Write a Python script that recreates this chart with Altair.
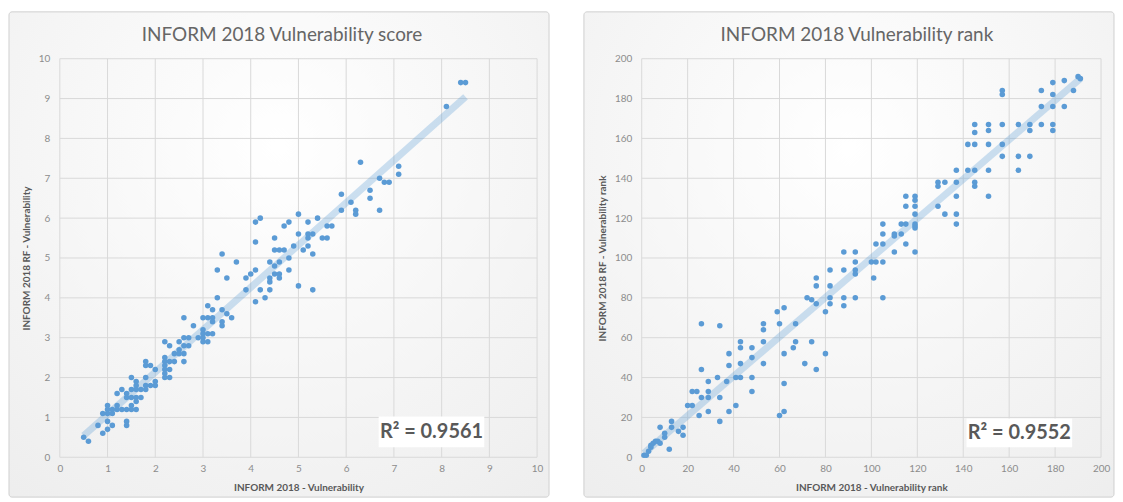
import altair as alt
import pandas as pd

# ---------------- data ----------------
score_x = [0.5, 0.6, 0.8, 0.9, 0.9, 1.0, 1.0, 1.0, 1.0, 1.0,
           1.1, 1.1, 1.1, 1.2, 1.2, 1.2, 1.3, 1.3, 1.4, 1.4,
           1.4, 1.4, 1.4, 1.5, 1.5, 1.5, 1.5, 1.5, 1.6, 1.6,
           1.6, 1.6, 1.6, 1.6, 1.7, 1.7, 1.8, 1.8, 1.8, 1.8,
           1.8, 1.9, 1.9, 2.0, 2.0, 2.0, 2.2, 2.2, 2.2, 2.2,
           2.2, 2.2, 2.2, 2.3, 2.3, 2.3, 2.3, 2.4, 2.4, 2.5,
           2.5, 2.5, 2.6, 2.6, 2.6, 2.6, 2.6, 2.7, 2.7, 2.8,
           2.9, 3.0, 3.0, 3.0, 3.0, 3.0, 3.1, 3.1, 3.1, 3.1,
           3.2, 3.2, 3.2, 3.2, 3.3, 3.3, 3.4, 3.4, 3.4, 3.4,
           3.5, 3.5, 3.6, 3.7, 3.9, 3.9, 4.0, 4.1, 4.1, 4.2,
           4.3, 4.4, 4.4, 4.4, 4.4, 4.5, 4.5, 4.6, 4.6, 4.6,
           4.8, 4.8, 5.0, 5.3, 5.3, 5.1, 4.5, 4.6, 4.7,
           8.4, 8.5, 8.1, 6.3, 7.1, 7.1, 6.7, 6.8, 6.9, 6.5,
           6.5, 6.7, 5.9, 5.9, 6.1, 6.2, 6.2, 4.1, 4.2, 4.1,
           4.5, 4.7, 4.8, 5.0, 5.0, 5.2, 5.2, 5.2, 5.2, 5.3,
           5.4, 5.5, 5.6, 5.6, 5.7, 4.9]
score_y = [0.5, 0.4, 0.8, 0.6, 1.1, 0.9, 0.7, 1.3, 1.2, 1.1,
           0.8, 1.1, 1.2, 1.3, 1.6, 1.2, 1.7, 1.2, 1.6, 1.5,
           0.9, 0.8, 1.2, 2.0, 1.7, 1.3, 1.2, 1.5, 1.9, 1.8,
           1.5, 1.4, 1.2, 1.7, 1.5, 1.7, 2.4, 2.3, 2.0, 1.8,
           1.7, 2.3, 1.8, 2.2, 1.9, 1.8, 2.9, 2.5, 2.4, 2.3,
           2.2, 2.1, 2.0, 2.8, 2.4, 2.2, 2.0, 2.6, 2.4, 2.9,
           2.7, 2.6, 3.5, 3.0, 2.8, 2.6, 2.4, 3.0, 2.8, 3.3,
           3.0, 3.5, 3.2, 3.1, 2.9, 3.0, 3.8, 3.5, 3.1, 2.9,
           3.7, 3.5, 3.4, 3.1, 4.7, 4.0, 5.1, 3.7, 3.4, 3.3,
           4.5, 3.6, 3.5, 4.9, 4.5, 4.2, 4.6, 4.7, 3.9, 4.2,
           4.0, 4.9, 4.5, 4.4, 4.2, 4.8, 4.6, 4.9, 4.6, 4.5,
           5.0, 4.7, 4.3, 5.1, 4.2, 5.2, 5.2, 5.2, 5.2,
           9.4, 9.4, 8.8, 7.4, 7.3, 7.1, 7.0, 6.9, 6.9, 6.7,
           6.5, 6.2, 6.6, 6.2, 6.4, 6.2, 6.1, 5.9, 6.0, 5.4,
           5.5, 5.8, 5.9, 6.1, 5.6, 5.9, 5.6, 5.5, 5.3, 5.6,
           6.0, 5.5, 5.5, 5.8, 5.8, 5.3]

rank_x = [1, 2, 3, 4, 4, 5, 6, 7, 8, 8, 10, 10, 12, 13, 13, 16, 18, 18,
          20, 22, 22, 24, 25, 26, 26, 26, 29, 29, 29, 29, 33, 34, 34, 34,
          37, 38, 38, 38, 41, 43, 41, 43, 43, 43, 48, 48, 48, 48,
          53, 53, 53, 53, 59, 60, 60, 62, 62, 62, 62, 66, 67, 67,
          71, 72, 74, 74, 76, 76, 76, 76, 80, 80, 82, 82, 82, 82,
          88, 88, 88, 88, 93, 93, 93, 93, 93, 100, 102, 105, 101, 105,
          110, 119, 102, 105, 105, 105, 110, 110, 113, 115, 113, 115,
          115, 115, 119, 119, 119, 119, 119, 119, 119,
          129, 129, 132, 137, 129, 132, 137, 137, 137,
          137, 142, 145, 151, 145, 145, 151,
          142, 145, 151, 157, 157, 164, 169, 164,
          145, 145, 151, 151, 157, 164, 169, 169, 174, 179, 179,
          174, 179, 184, 157, 157, 174, 188, 179, 179, 184, 190, 191]
rank_y = [1, 1, 3, 5, 6, 7, 8, 8, 7, 15, 10, 12, 4, 18, 15, 13, 15, 11,
          26, 26, 33, 33, 21, 67, 44, 30, 38, 33, 30, 23, 40, 66, 30, 18,
          38, 52, 46, 23, 40, 40, 26, 58, 55, 47, 55, 50, 40, 33,
          67, 64, 58, 47, 73, 67, 21, 75, 52, 37, 23, 55, 67, 58,
          47, 80, 79, 58, 90, 86, 77, 44, 73, 52, 94, 86, 80, 77,
          103, 94, 80, 76, 103, 98, 94, 92, 80, 98, 98, 98, 90, 80,
          103, 103, 107, 117, 112, 107, 111, 112, 117, 117, 112, 107,
          131, 126, 131, 129, 126, 122, 117, 116, 115,
          138, 136, 138, 138, 126, 122, 131, 122, 117,
          144, 144, 144, 144, 138, 136, 131,
          157, 157, 157, 157, 151, 151, 151, 144,
          167, 163, 167, 164, 167, 167, 167, 164, 167, 167, 164,
          176, 176, 176, 184, 182, 184, 184, 182, 188, 189, 191, 190]

score_ticks = list(range(0, 11))
rank_ticks = list(range(0, 201, 20))

score_title = "INFORM 2018 Vulnerability score"
rank_title = "INFORM 2018 Vulnerability rank"
score_xtitle = "INFORM 2018 - Vulnerability"
score_ytitle = "INFORM 2018 RF - Vulnerability"
rank_xtitle = "INFORM 2018 - Vulnerability rank"
rank_ytitle = "INFORM 2018 RF - Vulnerability rank"
score_r2 = "R² = 0.9561"
rank_r2 = "R² = 0.9552"

# ---------------- styling ----------------
FONT = "Lato"
BLUE = "#5b9bd5"
GRID = "#d9d9d9"

grad = alt.RadialGradient(
    gradient="radial",
    stops=[alt.GradientStop(color="#ffffff", offset=0),
           alt.GradientStop(color="#ededed", offset=1)],
    x1=0.5, y1=0.3, r1=0, x2=0.5, y2=0.3, r2=0.85,
)


def panel(xs, ys, ticks, w, h, title, xtitle, ytitle, r2, bg, box, tpos, title_pos):
    df = pd.DataFrame({"x": xs, "y": ys})
    tk = pd.DataFrame({"x": ticks, "y": ticks})
    dom = [ticks[0], ticks[-1]]

    def ax(t, lp, tp):
        return alt.Axis(values=ticks, title=t, grid=False, zindex=1,
                        domain=False, ticks=False, tickSize=0, labelFlush=False,
                        labelOverlap=False, labelColor="#8c8c8c", labelFont=FONT,
                        labelFontSize=10, labelPadding=lp, titleFont=FONT,
                        titleFontSize=10, titleFontWeight="bold", titleColor="#595959",
                        titlePadding=tp)

    sc = alt.Scale(domain=dom, nice=False, zero=False)
    enc_x = alt.X("x:Q", scale=sc, axis=ax(xtitle, 6, 9))
    enc_y = alt.Y("y:Q", scale=sc, axis=ax(ytitle, 10, 7))

    one = pd.DataFrame({"k": [0]})
    back = alt.Chart(one).mark_rect(fill=grad, stroke="#d0d0d0", strokeWidth=1,
                                    cornerRadius=3).encode(
        x=alt.value(bg[0]), x2=alt.value(bg[1]), y=alt.value(bg[2]), y2=alt.value(bg[3]))

    vgrid = alt.Chart(tk).mark_rule(color=GRID, strokeWidth=1).encode(x=enc_x)
    hgrid = alt.Chart(tk).mark_rule(color=GRID, strokeWidth=1).encode(y=enc_y)

    base = alt.Chart(df)
    trend = base.transform_regression("x", "y").mark_line(
        color=BLUE, opacity=0.3, strokeWidth=7, strokeCap="butt").encode(x=enc_x, y=enc_y)
    pts = base.mark_circle(color=BLUE, opacity=1, size=31).encode(x=enc_x, y=enc_y)

    rbox = alt.Chart(one).mark_rect(fill="white").encode(
        x=alt.value(box[0]), x2=alt.value(box[1]), y=alt.value(box[2]), y2=alt.value(box[3]))
    rtext = alt.Chart(one).mark_text(font=FONT, fontSize=20, fontWeight="bold",
                                     color="#595959", align="center",
                                     baseline="middle").encode(
        x=alt.value(tpos[0]), y=alt.value(tpos[1]), text=alt.value(r2))
    ttext = alt.Chart(one).mark_text(font=FONT, fontSize=19, fontWeight="normal",
                                     color="#666666", align="center",
                                     baseline="middle").encode(
        x=alt.value(title_pos[0]), y=alt.value(title_pos[1]), text=alt.value(title))

    return alt.layer(back, vgrid, hgrid, trend, pts, rbox, rtext, ttext).properties(
        width=w, height=h)


left = panel(score_x, score_y, score_ticks, 479, 400, score_title, score_xtitle,
             score_ytitle, score_r2, bg=(-51, 491, -47, 440), box=(320, 426, 359, 390),
             tpos=(373, 375), title_pos=(223, -24))
right = panel(rank_x, rank_y, rank_ticks, 461, 400, rank_title, rank_xtitle,
              rank_ytitle, rank_r2, bg=(-58, 474, -47, 440), box=(326, 432, 361, 390),
              tpos=(379, 376), title_pos=(216, -24))

chart = alt.hconcat(left, right, spacing=33).properties(
    padding={"left": 0, "top": 2, "right": 0, "bottom": 0},
    background="white",
).configure_view(stroke="transparent")

chart.save("out.html", embed_options={"renderer": "svg", "actions": False})
